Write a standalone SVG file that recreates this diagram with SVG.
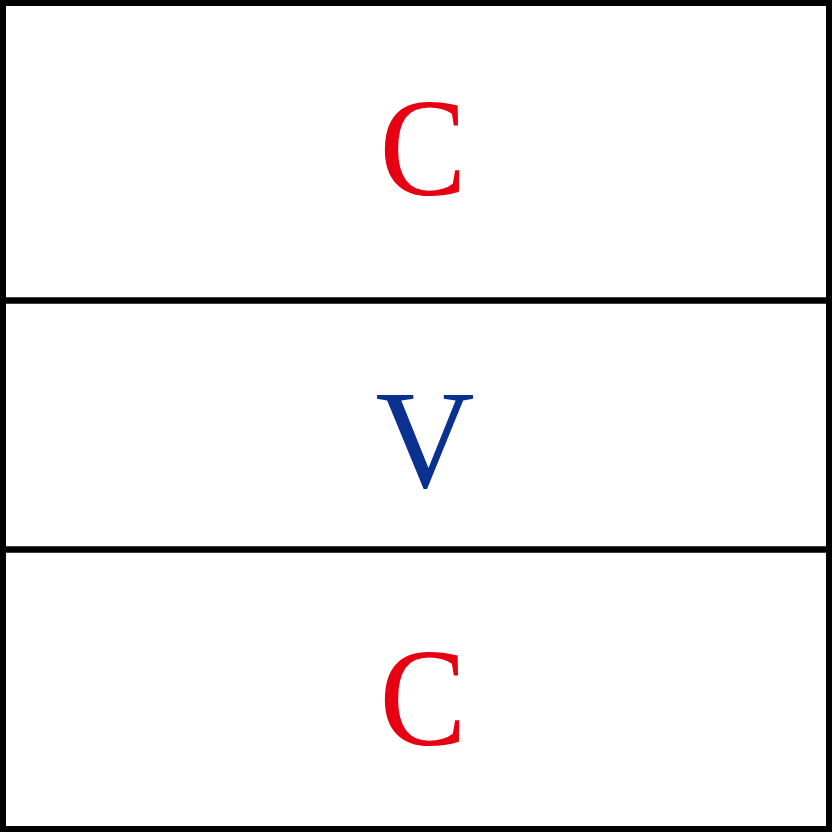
<svg xmlns="http://www.w3.org/2000/svg" width="832" height="832" viewBox="0 0 832 832">
<style>
.frame{fill:#fff;stroke:#000;stroke-width:6}
.div{stroke:#000;stroke-width:6.5}
.t{font-family:"Liberation Serif","Times New Roman",serif;font-size:140px;text-anchor:middle}
.red{fill:#e60012}
.blue{fill:#0a3190}
</style>
<rect class="frame" x="3" y="3" width="826" height="826"/>
<g id="connectors">
<line class="div" x1="3" y1="300.5" x2="829" y2="300.5"/>
<line class="div" x1="3" y1="549.5" x2="829" y2="549.5"/>
</g>
<g id="top"><text class="t red" x="423" y="195" textLength="87" lengthAdjust="spacingAndGlyphs">C</text></g>
<g id="middle"><text class="t blue" x="425" y="487" textLength="99" lengthAdjust="spacingAndGlyphs">V</text></g>
<g id="bottom"><text class="t red" x="423" y="745" textLength="87" lengthAdjust="spacingAndGlyphs">C</text></g>
</svg>
